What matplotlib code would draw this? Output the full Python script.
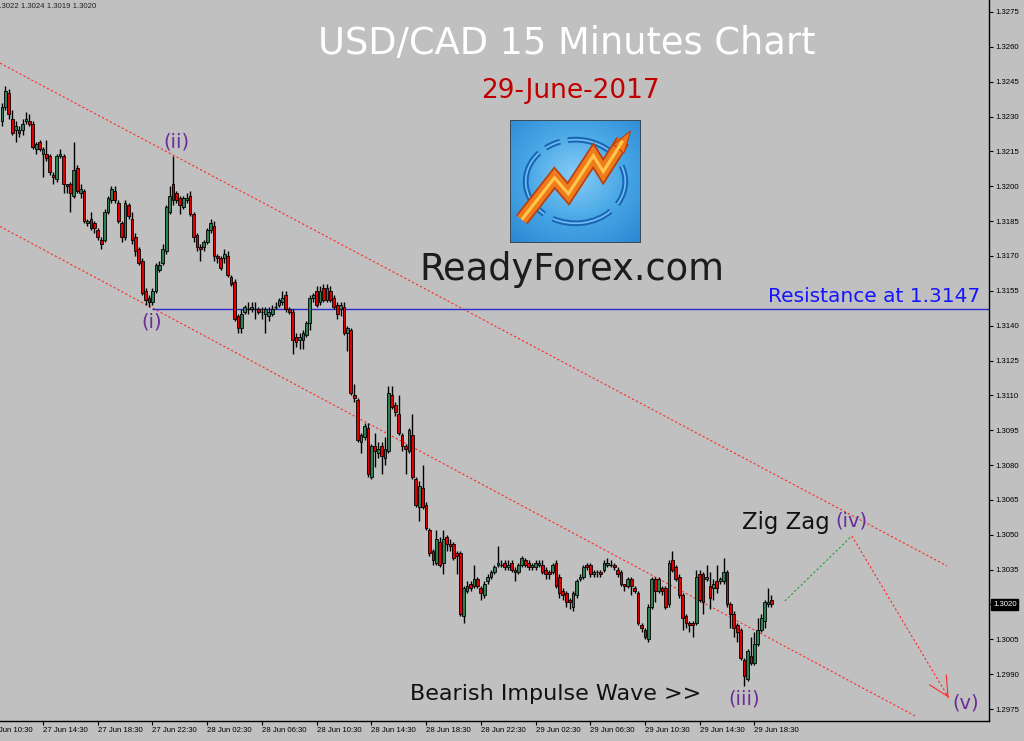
import numpy as np
import pandas as pd
import matplotlib
matplotlib.use("Agg")
import matplotlib.pyplot as plt
from matplotlib.patches import Arc, Rectangle, Polygon
from matplotlib.colors import LinearSegmentedColormap
import matplotlib.transforms as mtransforms

# ---------------- data (USD/CAD M15, 27-29 June 2017) ----------------
first_candle = "2017-06-27 11:30"
opens = [
    1.3228, 1.3234, 1.3240, 1.3229, 1.3224, 1.3224, 1.3224, 1.3228, 1.3228, 1.3227,
    1.3216, 1.3219, 1.3214, 1.3214, 1.3213, 1.3205, 1.3203, 1.3213, 1.3213, 1.3201,
    1.3201, 1.3196, 1.3208, 1.3197, 1.3198, 1.3184, 1.3186, 1.3184, 1.3181, 1.3177,
    1.3177, 1.3189, 1.3194, 1.3198, 1.3193, 1.3184, 1.3178, 1.3192, 1.3186, 1.3178,
    1.3173, 1.3168, 1.3155, 1.3152, 1.3150, 1.3155, 1.3164, 1.3167, 1.3172, 1.3189,
    1.3201, 1.3197, 1.3195, 1.3191, 1.3194, 1.3196, 1.3188, 1.3179, 1.3174, 1.3174,
    1.3176, 1.3181, 1.3183, 1.3170, 1.3169, 1.3169, 1.3170, 1.3161, 1.3159, 1.3144,
    1.3139, 1.3146, 1.3147, 1.3147, 1.3147, 1.3147, 1.3146, 1.3145, 1.3144, 1.3145,
    1.3148, 1.3149, 1.3150, 1.3153, 1.3147, 1.3146, 1.3135, 1.3134, 1.3134, 1.3136,
    1.3141, 1.3152, 1.3155, 1.3150, 1.3156, 1.3151, 1.3155, 1.3152, 1.3149, 1.3147,
    1.3148, 1.3137, 1.3138, 1.3110, 1.3108, 1.3090, 1.3092, 1.3096, 1.3075, 1.3088,
    1.3085, 1.3088, 1.3083, 1.3086, 1.3110, 1.3106, 1.3102, 1.3093, 1.3088, 1.3086,
    1.3093, 1.3074, 1.3062, 1.3070, 1.3063, 1.3052, 1.3043, 1.3038, 1.3047, 1.3038,
    1.3049, 1.3046, 1.3046, 1.3042, 1.3042, 1.3015, 1.3026, 1.3029, 1.3028, 1.3031,
    1.3027, 1.3024, 1.3030, 1.3032, 1.3034, 1.3037, 1.3037, 1.3038, 1.3036, 1.3038,
    1.3035, 1.3034, 1.3037, 1.3039, 1.3038, 1.3036, 1.3036, 1.3037, 1.3037, 1.3035,
    1.3034, 1.3034, 1.3038, 1.3032, 1.3026, 1.3025, 1.3022, 1.3019, 1.3024, 1.3031,
    1.3032, 1.3037, 1.3037, 1.3033, 1.3034, 1.3034, 1.3035, 1.3037, 1.3037, 1.3037,
    1.3035, 1.3034, 1.3029, 1.3028, 1.3031, 1.3027, 1.3025, 1.3011, 1.3009, 1.3005,
    1.3019, 1.3031, 1.3026, 1.3027, 1.3027, 1.3020, 1.3039, 1.3036, 1.3032, 1.3024,
    1.3015, 1.3012, 1.3012, 1.3012, 1.3033, 1.3033, 1.3031, 1.3028, 1.3027, 1.3030,
    1.3030, 1.3030, 1.3034, 1.3020, 1.3016, 1.3011, 1.3009, 1.2996, 1.2988, 1.2998,
    1.2995, 1.3003, 1.3009, 1.3013, 1.3020, 1.3022,
]
highs = [
    1.3236, 1.3243, 1.3242, 1.3233, 1.3228, 1.3226, 1.3229, 1.3232, 1.3231, 1.3228,
    1.3219, 1.3220, 1.3217, 1.3220, 1.3214, 1.3206, 1.3214, 1.3216, 1.3214, 1.3201,
    1.3202, 1.3219, 1.3209, 1.3201, 1.3199, 1.3186, 1.3189, 1.3185, 1.3182, 1.3178,
    1.3190, 1.3196, 1.3200, 1.3200, 1.3194, 1.3185, 1.3194, 1.3193, 1.3189, 1.3180,
    1.3174, 1.3169, 1.3156, 1.3153, 1.3156, 1.3167, 1.3168, 1.3175, 1.3192, 1.3200,
    1.3213, 1.3198, 1.3196, 1.3196, 1.3197, 1.3198, 1.3189, 1.3180, 1.3175, 1.3177,
    1.3182, 1.3186, 1.3185, 1.3171, 1.3170, 1.3173, 1.3172, 1.3162, 1.3160, 1.3145,
    1.3147, 1.3149, 1.3150, 1.3150, 1.3150, 1.3148, 1.3148, 1.3148, 1.3148, 1.3149,
    1.3150, 1.3152, 1.3155, 1.3155, 1.3148, 1.3147, 1.3137, 1.3137, 1.3138, 1.3142,
    1.3153, 1.3154, 1.3157, 1.3157, 1.3158, 1.3158, 1.3157, 1.3153, 1.3150, 1.3150,
    1.3150, 1.3140, 1.3139, 1.3115, 1.3109, 1.3094, 1.3098, 1.3098, 1.3089, 1.3094,
    1.3090, 1.3090, 1.3092, 1.3114, 1.3114, 1.3107, 1.3110, 1.3094, 1.3089, 1.3096,
    1.3102, 1.3075, 1.3073, 1.3080, 1.3064, 1.3053, 1.3044, 1.3052, 1.3049, 1.3052,
    1.3050, 1.3048, 1.3047, 1.3043, 1.3043, 1.3028, 1.3030, 1.3030, 1.3037, 1.3032,
    1.3028, 1.3030, 1.3033, 1.3035, 1.3037, 1.3045, 1.3039, 1.3039, 1.3039, 1.3039,
    1.3036, 1.3038, 1.3041, 1.3040, 1.3039, 1.3038, 1.3039, 1.3039, 1.3039, 1.3036,
    1.3035, 1.3038, 1.3039, 1.3033, 1.3027, 1.3026, 1.3023, 1.3026, 1.3031, 1.3033,
    1.3037, 1.3038, 1.3038, 1.3035, 1.3035, 1.3035, 1.3039, 1.3040, 1.3039, 1.3038,
    1.3036, 1.3035, 1.3029, 1.3032, 1.3032, 1.3028, 1.3026, 1.3012, 1.3010, 1.3020,
    1.3032, 1.3032, 1.3032, 1.3028, 1.3028, 1.3039, 1.3043, 1.3037, 1.3033, 1.3025,
    1.3016, 1.3013, 1.3013, 1.3035, 1.3035, 1.3034, 1.3037, 1.3034, 1.3031, 1.3037,
    1.3032, 1.3040, 1.3035, 1.3021, 1.3017, 1.3012, 1.3010, 1.2997, 1.3001, 1.3006,
    1.3008, 1.3014, 1.3016, 1.3022, 1.3027, 1.3024,
]
lows = [
    1.3226, 1.3233, 1.3229, 1.3222, 1.3219, 1.3221, 1.3222, 1.3227, 1.3226, 1.3216,
    1.3214, 1.3215, 1.3204, 1.3211, 1.3205, 1.3201, 1.3202, 1.3212, 1.3197, 1.3197,
    1.3189, 1.3195, 1.3197, 1.3195, 1.3184, 1.3183, 1.3181, 1.3180, 1.3177, 1.3173,
    1.3176, 1.3188, 1.3193, 1.3193, 1.3184, 1.3176, 1.3177, 1.3186, 1.3175, 1.3170,
    1.3166, 1.3153, 1.3149, 1.3148, 1.3149, 1.3154, 1.3163, 1.3166, 1.3171, 1.3188,
    1.3192, 1.3193, 1.3188, 1.3190, 1.3193, 1.3187, 1.3176, 1.3172, 1.3168, 1.3172,
    1.3175, 1.3180, 1.3168, 1.3167, 1.3164, 1.3167, 1.3161, 1.3157, 1.3142, 1.3137,
    1.3137, 1.3145, 1.3145, 1.3146, 1.3143, 1.3145, 1.3143, 1.3137, 1.3142, 1.3144,
    1.3147, 1.3148, 1.3149, 1.3146, 1.3145, 1.3128, 1.3131, 1.3130, 1.3130, 1.3135,
    1.3138, 1.3150, 1.3148, 1.3149, 1.3150, 1.3150, 1.3150, 1.3147, 1.3143, 1.3144,
    1.3136, 1.3129, 1.3110, 1.3107, 1.3090, 1.3085, 1.3091, 1.3075, 1.3074, 1.3079,
    1.3083, 1.3076, 1.3080, 1.3085, 1.3104, 1.3101, 1.3093, 1.3086, 1.3076, 1.3085,
    1.3074, 1.3062, 1.3056, 1.3061, 1.3052, 1.3041, 1.3037, 1.3037, 1.3036, 1.3033,
    1.3043, 1.3043, 1.3039, 1.3033, 1.3015, 1.3012, 1.3025, 1.3026, 1.3027, 1.3027,
    1.3022, 1.3023, 1.3029, 1.3031, 1.3033, 1.3036, 1.3036, 1.3035, 1.3035, 1.3034,
    1.3030, 1.3033, 1.3036, 1.3036, 1.3035, 1.3035, 1.3035, 1.3036, 1.3033, 1.3031,
    1.3031, 1.3033, 1.3027, 1.3023, 1.3022, 1.3019, 1.3018, 1.3017, 1.3023, 1.3030,
    1.3031, 1.3035, 1.3032, 1.3032, 1.3032, 1.3032, 1.3034, 1.3036, 1.3036, 1.3035,
    1.3032, 1.3028, 1.3026, 1.3027, 1.3024, 1.3025, 1.3011, 1.3008, 1.3005, 1.3004,
    1.3018, 1.3021, 1.3025, 1.3024, 1.3018, 1.3019, 1.3034, 1.3030, 1.3023, 1.3009,
    1.3010, 1.3008, 1.3006, 1.3011, 1.3021, 1.3016, 1.3030, 1.3018, 1.3022, 1.3025,
    1.3029, 1.3029, 1.3019, 1.3010, 1.3006, 1.3004, 1.2996, 1.2985, 1.2987, 1.2994,
    1.2994, 1.3002, 1.3008, 1.3010, 1.3019, 1.3019,
]
closes = [
    1.3234, 1.3241, 1.3231, 1.3223, 1.3226, 1.3223, 1.3227, 1.3229, 1.3227, 1.3217,
    1.3218, 1.3216, 1.3216, 1.3212, 1.3206, 1.3204, 1.3213, 1.3214, 1.3201, 1.3200,
    1.3197, 1.3207, 1.3198, 1.3199, 1.3185, 1.3185, 1.3182, 1.3182, 1.3178, 1.3175,
    1.3189, 1.3195, 1.3199, 1.3194, 1.3185, 1.3178, 1.3193, 1.3187, 1.3177, 1.3172,
    1.3167, 1.3154, 1.3151, 1.3150, 1.3155, 1.3166, 1.3166, 1.3173, 1.3191, 1.3196,
    1.3194, 1.3194, 1.3192, 1.3195, 1.3195, 1.3188, 1.3178, 1.3174, 1.3173, 1.3176,
    1.3181, 1.3184, 1.3170, 1.3169, 1.3165, 1.3171, 1.3162, 1.3158, 1.3143, 1.3139,
    1.3145, 1.3148, 1.3147, 1.3148, 1.3147, 1.3146, 1.3146, 1.3147, 1.3146, 1.3147,
    1.3148, 1.3151, 1.3152, 1.3147, 1.3146, 1.3134, 1.3133, 1.3135, 1.3137, 1.3141,
    1.3152, 1.3153, 1.3149, 1.3155, 1.3151, 1.3156, 1.3151, 1.3148, 1.3145, 1.3149,
    1.3137, 1.3139, 1.3111, 1.3109, 1.3091, 1.3093, 1.3097, 1.3076, 1.3088, 1.3086,
    1.3087, 1.3084, 1.3087, 1.3111, 1.3105, 1.3103, 1.3094, 1.3088, 1.3087, 1.3095,
    1.3075, 1.3063, 1.3071, 1.3062, 1.3053, 1.3042, 1.3039, 1.3048, 1.3037, 1.3048,
    1.3046, 1.3045, 1.3040, 1.3041, 1.3016, 1.3027, 1.3028, 1.3027, 1.3031, 1.3028,
    1.3025, 1.3029, 1.3032, 1.3034, 1.3036, 1.3038, 1.3037, 1.3036, 1.3037, 1.3035,
    1.3034, 1.3037, 1.3040, 1.3037, 1.3036, 1.3037, 1.3038, 1.3038, 1.3034, 1.3033,
    1.3033, 1.3037, 1.3028, 1.3025, 1.3024, 1.3021, 1.3021, 1.3025, 1.3030, 1.3032,
    1.3036, 1.3036, 1.3033, 1.3034, 1.3034, 1.3033, 1.3038, 1.3038, 1.3037, 1.3036,
    1.3033, 1.3029, 1.3028, 1.3031, 1.3028, 1.3026, 1.3012, 1.3010, 1.3006, 1.3019,
    1.3031, 1.3026, 1.3031, 1.3026, 1.3019, 1.3038, 1.3035, 1.3031, 1.3024, 1.3014,
    1.3012, 1.3011, 1.3011, 1.3032, 1.3022, 1.3021, 1.3032, 1.3023, 1.3029, 1.3027,
    1.3031, 1.3034, 1.3020, 1.3016, 1.3010, 1.3008, 1.2997, 1.2989, 1.3000, 1.2995,
    1.3003, 1.3009, 1.3014, 1.3021, 1.3021, 1.3020,
]
tick_labels = ["27 Jun 10:30", "27 Jun 14:30", "27 Jun 18:30", "27 Jun 22:30",
               "28 Jun 02:30", "28 Jun 06:30", "28 Jun 10:30", "28 Jun 14:30",
               "28 Jun 18:30", "28 Jun 22:30", "29 Jun 02:30", "29 Jun 06:30",
               "29 Jun 10:30", "29 Jun 14:30", "29 Jun 18:30"]
tick_times = ["2017-06-27 10:30", "2017-06-27 14:30", "2017-06-27 18:30", "2017-06-27 22:30",
              "2017-06-28 02:30", "2017-06-28 06:30", "2017-06-28 10:30", "2017-06-28 14:30",
              "2017-06-28 18:30", "2017-06-28 22:30", "2017-06-29 02:30", "2017-06-29 06:30",
              "2017-06-29 10:30", "2017-06-29 14:30", "2017-06-29 18:30"]
price_ticks = [1.2975, 1.2990, 1.3005, 1.3020, 1.3035, 1.3050, 1.3065, 1.3080, 1.3095,
               1.3110, 1.3125, 1.3140, 1.3155, 1.3170, 1.3185, 1.3200, 1.3215, 1.3230,
               1.3245, 1.3260, 1.3275]
resistance = 1.3147
last_price = 1.3020
header_ohlc = "1.3022 1.3024 1.3019 1.3020"
# trend lines (bar index, price)
upper_channel_x = [-0.6, 276.3]
upper_channel_y = [1.32530, 1.30366]
lower_channel_x = [-0.6, 267.0]
lower_channel_y = [1.31827, 1.29720]
zigzag_x = [228.9, 248.5]
zigzag_y = [1.30215, 1.30495]
wave_v_x = [248.5, 277.2]
wave_v_y = [1.30495, 1.29789]
resistance_start = 44
wave_labels = ["(i)", "(ii)", "(iii)", "(iv)", "(v)"]
wave_label_x = [43.9, 50.9, 217.0, 248.3, 281.9]
wave_label_y = [1.31416, 1.32190, 1.29793, 1.30559, 1.29776]

# ---------------- figure ----------------
W, H = 1024, 741
BG = "#c0c0c0"
fig = plt.figure(figsize=(W / 100, H / 100), dpi=100, facecolor=BG)
ax = fig.add_axes([0, 1 - 721 / H, 989 / W, 721 / H], facecolor=BG)

o = np.array(opens); h = np.array(highs); l = np.array(lows); c = np.array(closes)
idx = np.arange(len(c))
t0 = pd.Timestamp(first_candle)
tick_pos = [(pd.Timestamp(t) - t0) / pd.Timedelta("15min") for t in tick_times]

up = c > o
dn = c < o
fl = c == o
ax.vlines(idx, l, h, color="black", lw=1.0, zorder=3)
ax.bar(idx[up], (c - o)[up], bottom=o[up], width=0.8, color="#2f7f55",
       edgecolor="black", lw=0.6, zorder=4)
ax.bar(idx[dn], (c - o)[dn], bottom=o[dn], width=0.8, color="#e00000",
       edgecolor="black", lw=0.6, zorder=4)
ax.hlines(c[fl], idx[fl] - 0.4, idx[fl] + 0.4, color="black", lw=0.9, zorder=4)

red_dash = (0, (2, 2))
ax.plot(upper_channel_x, upper_channel_y, color="#ff2a2a", lw=0.8, ls=red_dash, zorder=2)
ax.plot(lower_channel_x, lower_channel_y, color="#ff2a2a", lw=0.8, ls=red_dash, zorder=2)
ax.plot(zigzag_x, zigzag_y, color="#22a022", lw=0.8, ls=red_dash, zorder=2)
ax.plot(wave_v_x, wave_v_y, color="#ff2a2a", lw=0.8, ls=red_dash, zorder=2)
dx = wave_v_x[1] - wave_v_x[0]; dy = wave_v_y[1] - wave_v_y[0]
ax.annotate("", xy=(wave_v_x[1], wave_v_y[1]),
            xytext=(wave_v_x[1] - 0.05 * dx, wave_v_y[1] - 0.05 * dy),
            arrowprops=dict(arrowstyle="->,head_length=0.7,head_width=0.35",
                            color="#ff2a2a", lw=0.8, mutation_scale=20),
            annotation_clip=False, zorder=5)
ax.hlines(resistance, resistance_start, 300, color="#2a2ad0", lw=1.0, zorder=2)

xmin, xmax = -0.58, 288.6
ymin = 1.3275 - 709 * 0.00004304
ymax = 1.3275 + 12 * 0.00004304
ax.set_xlim(xmin, xmax)
ax.set_ylim(ymin, ymax)

for s in ["left", "top"]:
    ax.spines[s].set_visible(False)
for s in ["right", "bottom"]:
    ax.spines[s].set_color("black")
    ax.spines[s].set_linewidth(1.0)

small = dict(family="Liberation Sans", size=5.6)
ax.yaxis.tick_right()
ax.set_yticks(price_ticks)
# the current-price box replaces the label at the last price
ax.set_yticklabels(["" if abs(p - last_price) < 1e-9 else f"{p:.4f}" for p in price_ticks],
                   fontdict=small)
ax.tick_params(axis="y", direction="out", length=3, width=0.8, pad=1.5, colors="black")

vis = [(p, lab) for p, lab in zip(tick_pos, tick_labels) if p >= xmin]
ax.set_xticks([p for p, _ in vis])
ax.set_xticklabels([lab for _, lab in vis], fontdict=small, ha="left")
ax.tick_params(axis="x", direction="out", length=3, width=0.8, pad=1.5, colors="black")
for p, lab in zip(tick_pos, tick_labels):
    if p < xmin:
        ax.text(p, -6.3 / 721, lab,
                transform=mtransforms.blended_transform_factory(ax.transData, ax.transAxes),
                ha="left", va="top", clip_on=False, **small)

# current price marker
ax.text(1.004, last_price, f"{last_price:.4f}",
        transform=mtransforms.blended_transform_factory(ax.transAxes, ax.transData),
        ha="left", va="center", color="white", clip_on=False,
        bbox=dict(facecolor="black", edgecolor="black", pad=1.2), zorder=10, **small)

# wave labels
for lab, x, y in zip(wave_labels, wave_label_x, wave_label_y):
    ax.text(x, y, lab, color="#6a2c9a", fontsize=14, ha="center", va="center",
            family="DejaVu Sans", clip_on=False, zorder=6)


def fx(px):
    return px / W


def fy(py):
    return 1 - py / H


fig.text(fx(-5), fy(6), header_ohlc, ha="left", va="center", color="#222222",
         family="Liberation Sans", size=5.6)
fig.text(fx(567), fy(44), "USD/CAD 15 Minutes Chart", color="white", size=26.5,
         ha="center", va="center", family="DejaVu Sans")
fig.text(fx(570), fy(91), "29-June-2017", color="#c00000", size=19,
         ha="center", va="center", family="DejaVu Sans")
fig.text(fx(572), fy(270), "ReadyForex.com", color="#1c1c1c", size=26.5,
         ha="center", va="center", family="DejaVu Sans")
fig.text(fx(874), fy(296), "Resistance at 1.3147", color="#1414ff", size=14.5,
         ha="center", va="center", family="DejaVu Sans")
fig.text(fx(786), fy(523), "Zig Zag", color="#111111", size=16.5,
         ha="center", va="center", family="DejaVu Sans")
fig.text(fx(556), fy(694), "Bearish Impulse Wave >>", color="#111111", size=16,
         ha="center", va="center", family="DejaVu Sans")

# ---------------- logo ----------------
lax = fig.add_axes([fx(510), fy(243), 131 / W, 123 / H])
lax.set_xlim(0, 1); lax.set_ylim(0, 1); lax.axis("off")
yy, xx = np.mgrid[0:1:120j, 0:1:120j]
r = np.hypot(xx - 0.5, yy - 0.55)
cmap = LinearSegmentedColormap.from_list("lg", ["#86cdf5", "#48a7e6", "#2a86d2"])
lax.imshow(r, extent=(0, 1, 0, 1), origin="lower", cmap=cmap, aspect="auto", zorder=0)
lax.add_patch(Rectangle((0, 0), 1, 1, fill=False, edgecolor="#3b4a58", lw=1.4, zorder=5))
for t1, t2 in [(45, 100), (110, 130), (140, 228), (240, 318), (330, 20)]:
    lax.add_patch(Arc((0.5, 0.5), 0.76, 0.68, theta1=t1, theta2=t2, lw=4.2,
                      color="#1a66b6", zorder=1))
    lax.add_patch(Arc((0.5, 0.5), 0.76, 0.68, theta1=t1, theta2=t2, lw=1.2,
                      color="#72c0f2", zorder=1))
zx = [0.09, 0.34, 0.445, 0.636, 0.712, 0.86]
zy = [0.19, 0.53, 0.40, 0.71, 0.58, 0.83]
lax.plot(zx, zy, color="#b8400f", lw=10.5, solid_joinstyle="miter", solid_capstyle="butt", zorder=2)
lax.plot(zx, zy, color="#f07a1e", lw=8, solid_joinstyle="miter", solid_capstyle="butt", zorder=3)
lax.plot(zx, zy, color="#ffc84a", lw=2.2, solid_joinstyle="miter", solid_capstyle="butt", zorder=4)
lax.add_patch(Polygon([[0.79, 0.80], [0.92, 0.91], [0.87, 0.73]], closed=True,
                      facecolor="#f07a1e", edgecolor="#b8400f", lw=0.8, zorder=3))

fig.savefig("out.png", dpi=100, facecolor=BG)
